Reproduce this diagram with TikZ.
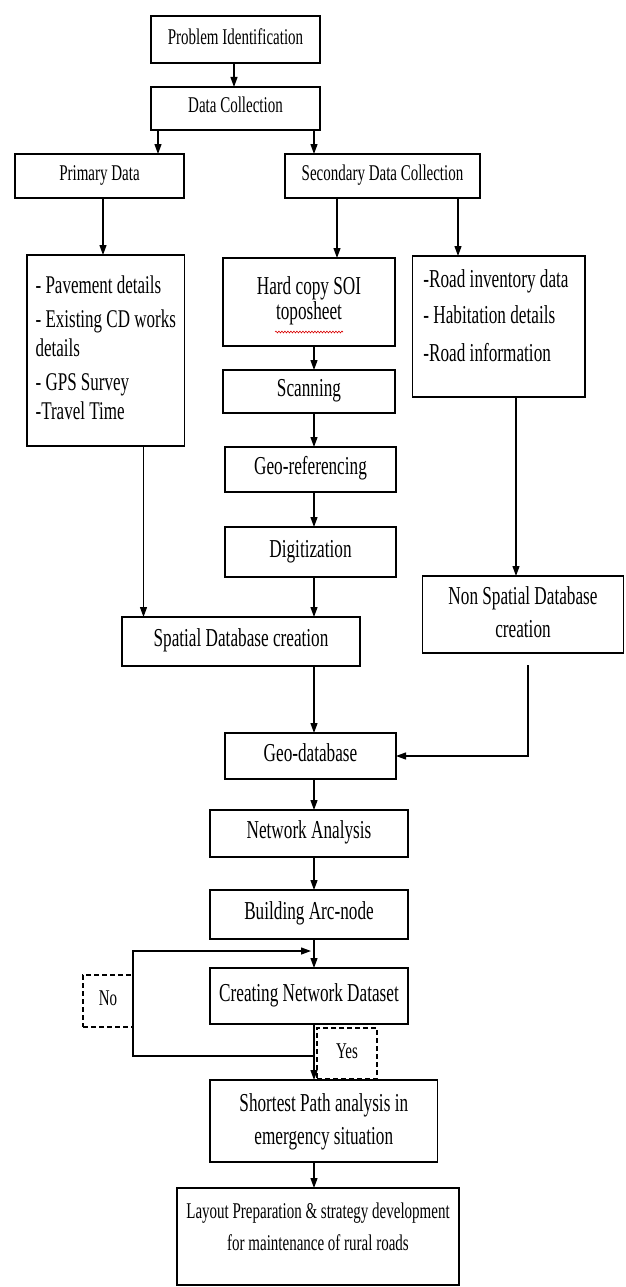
\documentclass[tikz,border=0pt]{standalone}
\usepackage{fontspec}
\setmainfont{Liberation Serif}
\usetikzlibrary{arrows.meta,decorations.pathmorphing}
\newcommand\vtxt[3]{\scalebox{1}[1.5]{\fontsize{#1}{#2}\selectfont\begin{tabular}{@{}c@{}}#3\end{tabular}}}
\newcommand\vlst[3]{\scalebox{1}[1.5]{\fontsize{#1}{#2}\selectfont\begin{tabular}{@{}l@{}}#3\end{tabular}}}
\begin{document}
\begin{tikzpicture}[x=1pt,y=-1pt,
  boxnode/.style={draw, line width=1.6pt, inner sep=0pt, outer sep=0pt, fill=white},
  dashbox/.style={draw, line width=1.2pt, dash pattern=on 5pt off 3pt, inner sep=0pt, outer sep=0pt},
  txtnode/.style={inner sep=0pt, outer sep=0pt},
  conn/.style={line width=1.2pt, -{Triangle[length=10pt,width=7pt]}}]
\useasboundingbox (0,0) rectangle (625,1287);

% boxes
\node[boxnode, minimum width=169pt, minimum height=47pt] (pi) at (235.5,39.5) {\vtxt{15}{15}{Problem Identification}};
\node[boxnode, minimum width=169pt, minimum height=43pt] (dc) at (235.5,108.5) {\vtxt{15}{15}{Data Collection}};
\node[boxnode, minimum width=169pt, minimum height=44pt] (pd) at (99.5,176) {\vtxt{15}{15}{Primary Data}};
\node[boxnode, minimum width=195pt, minimum height=44pt] (sdc) at (382.5,176) {\vtxt{15}{15}{Secondary Data Collection}};
\node[boxnode, minimum width=157.5pt, minimum height=191pt] (plist) at (105.75,350.5) {\vlst{17}{19}{- Pavement details\\[4pt] - Existing CD works\\details\\[4pt] - GPS Survey\\-Travel Time}};
\node[boxnode, minimum width=172pt, minimum height=88pt] (hard) at (309,302) {\vtxt{17.2}{17}{Hard copy SOI\\toposheet}};
\node[boxnode, minimum width=172.5pt, minimum height=141pt] (road) at (498.75,326.5) {};
\node[txtnode] (roadtxt) at (496,319) {\vlst{17.2}{17}{-Road inventory data\\[7pt] - Habitation details\\[8pt] -Road information}};
\node[boxnode, minimum width=172pt, minimum height=43pt] (scan) at (309,391.5) {\vtxt{17.2}{17.2}{Scanning}};
\node[boxnode, minimum width=171pt, minimum height=45pt] (georef) at (310.5,469.5) {\vtxt{17.2}{17.2}{Geo-referencing}};
\node[boxnode, minimum width=171pt, minimum height=50pt] (digit) at (310.5,552) {\vtxt{17.2}{17.2}{Digitization}};
\node[boxnode, minimum width=238pt, minimum height=49pt] (spatial) at (241,641.5) {\vtxt{17.2}{17.2}{Spatial Database creation}};
\node[boxnode, minimum width=201pt, minimum height=77pt] (nonsp) at (523,614.5) {\vtxt{17.2}{22}{Non Spatial Database\\creation}};
\node[boxnode, minimum width=171pt, minimum height=46pt] (geodb) at (310.5,756) {\vtxt{17.2}{17.2}{Geo-database}};
\node[boxnode, minimum width=198pt, minimum height=47pt] (netan) at (309,833.5) {\vtxt{17.2}{17.2}{Network Analysis}};
\node[boxnode, minimum width=198pt, minimum height=49pt] (build) at (309,914.5) {\vtxt{17.2}{17.2}{Building Arc-node}};
\node[boxnode, minimum width=198pt, minimum height=56pt] (create) at (309,996) {\vtxt{17.2}{17.2}{Creating Network Dataset}};
\node[boxnode, minimum width=227.6pt, minimum height=82pt] (shortest) at (323.8,1121) {\vtxt{17.2}{22}{Shortest Path analysis in\\emergency situation}};
\node[boxnode, minimum width=282pt, minimum height=97pt] (layout) at (318,1236.5) {};
\node[txtnode] (layouttxt) at (318,1228) {\vtxt{15}{21}{Layout Preparation \& strategy development\\for maintenance of rural roads}};
\node[dashbox, minimum width=50pt, minimum height=52pt] (no) at (108,1001) {\vtxt{15}{15}{No}};
\node[dashbox, minimum width=60pt, minimum height=51pt] (yes) at (347,1053.5) {\vtxt{15}{15}{Yes}};

% spell-check underline
\draw[red!85!black, line width=0.6pt, decorate, decoration={snake, amplitude=0.9pt, segment length=3pt}] (275,332) -- (343,332);

% connectors
\draw[conn] (pi.south -| 234,0) -- (dc.north -| 234,0);
\draw[conn] (dc.south -| 158,0) -- (pd.north -| 158,0);
\draw[conn] (dc.south -| 314,0) -- (sdc.north -| 314,0);
\draw[conn] (pd.south -| 103,0) -- (plist.north -| 103,0);
\draw[conn] (sdc.south -| 337,0) -- (hard.north -| 337,0);
\draw[conn] (sdc.south -| 458,0) -- (road.north -| 458,0);
\draw[conn] (hard.south -| 314,0) -- (scan.north -| 314,0);
\draw[conn] (scan.south -| 314,0) -- (georef.north -| 314,0);
\draw[conn] (georef.south -| 314,0) -- (digit.north -| 314,0);
\draw[conn] (digit.south -| 314,0) -- (spatial.north -| 314,0);
\draw[conn] (plist.south -| 143.5,0) -- (spatial.north -| 143.5,0);
\draw[conn] (road.south -| 516,0) -- (nonsp.north -| 516,0);
\draw[conn] (spatial.south -| 314,0) -- (geodb.north -| 314,0);
\coordinate (nsgap) at (528,665);
\draw[conn] (nsgap) |- (geodb.east);
\draw[conn] (geodb.south -| 314,0) -- (netan.north -| 314,0);
\draw[conn] (netan.south -| 314,0) -- (build.north -| 314,0);
\draw[conn] (build.south -| 314,0) -- (create.north -| 314,0);
\draw[conn] (create.south -| 314,0) -- (shortest.north -| 314,0);
\draw[conn] (shortest.south -| 314,0) -- (layout.north -| 314,0);
\coordinate (lpA) at (314,1056);
\coordinate (lpB) at (311,951);
\draw[conn] (lpA) -- (lpA -| no.east) -- (lpB -| no.east) -- (lpB);
\end{tikzpicture}
\end{document}
